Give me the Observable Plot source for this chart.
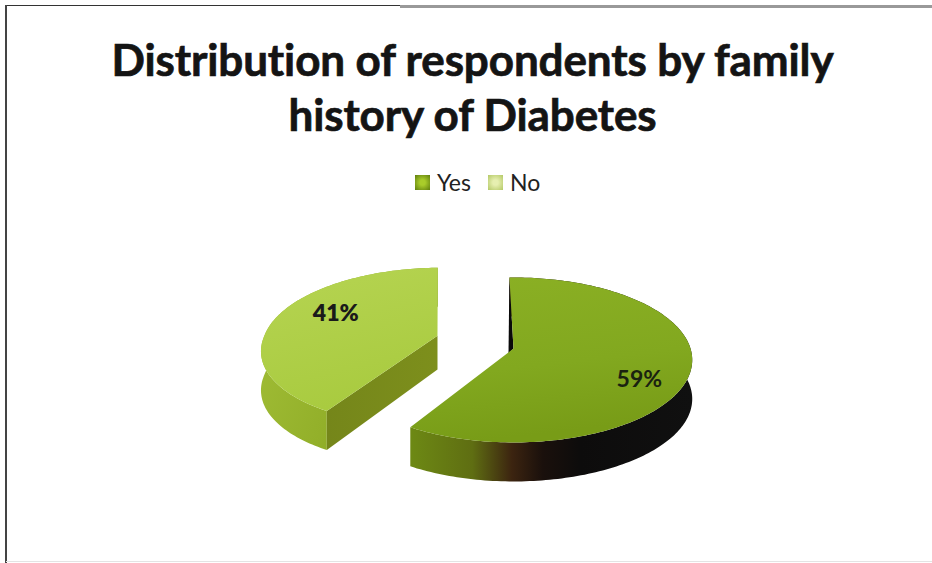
<!DOCTYPE html>
<html>
<head>
<meta charset="utf-8">
<script src="https://cdn.jsdelivr.net/npm/d3@7"></script>
<script src="https://cdn.jsdelivr.net/npm/@observablehq/plot@0.6"></script>
<style>
  html, body { margin: 0; background: #fff; }
  #page { position: relative; width: 932px; height: 563px; overflow: hidden; font-family: Lato, sans-serif; }
  .edge { position: absolute; }
  #title {
    position: absolute; left: 0; top: 32px; width: 945px; text-align: center;
    font-size: 44px; line-height: 55px; font-weight: 700; color: #141414; letter-spacing: -0.12px;
    -webkit-text-stroke: 0.7px #141414;
  }
  #legend { position: absolute; left: 415px; top: 168px; height: 28px; display: flex; align-items: center; font-size: 23px; color: #222; }
  #legend i { display: inline-block; width: 15px; height: 15px; margin-right: 7px; }
  #legend span { margin-right: 17px; display: flex; align-items: center; }
  #chart { position: absolute; left: 0; top: 200px; }
</style>
</head>
<body>
<div id="page">
  <div class="edge" style="left:5px;top:5px;width:395px;height:1px;background:#333"></div>
  <div class="edge" style="left:400px;top:5px;width:532px;height:3px;background:#999"></div>
  <div class="edge" style="left:5px;top:5px;width:1.5px;height:558px;background:#444"></div>
  <div class="edge" style="left:6px;top:561px;width:926px;height:1px;background:#e4e4e4"></div>
  <div id="title">Distribution of respondents by family<br>history of Diabetes</div>
  <div id="legend"></div>
  <div id="chart"></div>
</div>
<script>
// Survey result
const categories = ["Yes", "No"];
const shares = [59, 41];
const swatches = [
  "radial-gradient(circle, #a9cc2a 25%, #5f7d0e 100%)",
  "radial-gradient(circle, #e6efb0 25%, #b3c865 100%)"
];

// Layout of the tilted disc, in pixels of the plot frame
const width = 932, height = 363;
const cx = 513, cy = 148, rx = 177, ry = 80.9;
const perspective = 0.139;      // foreshortening from front to back
const depthYes = 39 / ry, depthNo = 39 / ry;
const explodeNo = [-0.439, -0.16]; // ground-plane shift of the pulled-out slice
const lean = 0.07;              // back half of the pulled-out slice leans left
const turn = -1.5 * Math.PI / 180;

const slices = d3.pie().sort(null).value(d => d)
  .startAngle(turn).endAngle(2 * Math.PI + turn)(shares);

// Ground-plane point to screen units
function project(u, v, drop = 0) {
  const s = 1 / (1 - perspective * v);
  return { x: u * s, y: v * s + drop };
}
function rimPoint(a, [ou, ov], drop = 0) {
  return project(ou + Math.sin(a), ov - Math.cos(a), drop);
}
function arcPoints(a0, a1, origin, drop = 0) {
  const steps = Math.ceil(Math.abs(a1 - a0) / 0.02);
  return d3.range(steps + 1).map(i => rimPoint(a0 + (a1 - a0) * i / steps, origin, drop));
}
const apex = ([ou, ov], drop = 0) => project(ou, ov, drop);

const yes = slices[0], no = slices[1];
const originYes = [0, 0];

const yesSide = [...arcPoints(yes.startAngle, yes.endAngle, originYes),
                 ...arcPoints(yes.endAngle, yes.startAngle, originYes, depthYes)];
const yesTop = [apex(originYes), ...arcPoints(yes.startAngle, yes.endAngle, originYes)];
const yesWall = [rimPoint(yes.startAngle, originYes), apex(originYes),
                 { x: apex(originYes).x - 5 / rx, y: apex(originYes).y + 5 / ry }];

// The pulled-out slice: points behind its apex lean towards the left
const apexNoY = apex(explodeNo).y;
const leaned = p => p.y < apexNoY ? { x: p.x + lean * (p.y - apexNoY) * ry / rx, y: p.y } : p;
const noArc = arcPoints(no.startAngle, no.endAngle, explodeNo).map(leaned);
const noSide = [...noArc, ...noArc.slice().reverse().map(p => ({ x: p.x, y: p.y + depthNo }))];
const noCorner = rimPoint(no.startAngle, explodeNo);
const noCut = [apex(explodeNo), noCorner,
               { x: noCorner.x, y: noCorner.y + depthNo },
               apex(explodeNo, depthNo * 0.86)];
const noTop = [apex(explodeNo), ...noArc];

function labelAnchor(slice, origin) {
  const a = (slice.startAngle + slice.endAngle) / 2;
  return project(origin[0] + 0.7 * Math.sin(a), origin[1] - 0.7 * Math.cos(a));
}
const labelYes = { ...labelAnchor(yes, originYes), text: `${shares[0]}%` };
const labelNo = { ...labelAnchor(no, explodeNo), text: `${shares[1]}%` };

// Gradients that give the solid its shading
function gradients() {
  const defs = d3.create("svg:defs");
  const add = (id, x2, y2, stops) => {
    const g = defs.append("linearGradient").attr("id", id)
      .attr("x1", 0).attr("y1", 0).attr("x2", x2).attr("y2", y2);
    stops.forEach(([o, c]) => g.append("stop").attr("offset", o).attr("stop-color", c));
  };
  add("yesTop", 0.2, 1, [[0, "#8bb024"], [0.6, "#82a81f"], [1, "#789c17"]]);
  add("yesSide", 1, 0, [[0, "#6d8914"], [0.22, "#5f6e12"], [0.36, "#3c2410"], [0.47, "#1a100c"], [0.6, "#0d0c0c"], [1, "#101010"]]);
  add("noTop", 0.3, 1, [[0, "#b6d452"], [1, "#a9cb40"]]);
  add("noSide", 1, 0.4, [[0, "#a3bf38"], [0.6, "#93b02a"], [1, "#7f9a20"]]);
  add("noCut", 1, 0, [[0, "#75861a"], [1, "#7d8f1c"]]);
  return defs.node();
}

const poly = (points, fill) => Plot.line(points, { x: "x", y: "y", fill, stroke: "none", curve: "linear" });

const plot = Plot.plot({
  width, height,
  margin: 0,
  x: { axis: null, domain: [-cx / rx, (width - cx) / rx], range: [0, width] },
  y: { axis: null, domain: [-cy / ry, (height - cy) / ry], range: [0, height] },
  style: { background: "transparent", overflow: "visible" },
  marks: [
    gradients,
    poly(noSide, "url(#noSide)"),
    poly(noCut, "url(#noCut)"),
    poly(noTop, "url(#noTop)"),
    poly(yesSide, "url(#yesSide)"),
    poly(yesWall, "#0a0a0a"),
    poly(yesTop, "url(#yesTop)"),
    Plot.text([labelNo], { x: "x", y: "y", text: "text", dx: 11, dy: -9, fontSize: 23, fontWeight: 800, fill: "#1a1a1a", fontFamily: "Lato" }),
    Plot.text([labelYes], { x: "x", y: "y", text: "text", dx: 3, dy: 16, fontSize: 23, fontWeight: 700, fill: "#1a2210", fontFamily: "Lato" })
  ]
});
document.getElementById("chart").append(plot);

// Legend row
const legend = document.getElementById("legend");
categories.forEach((name, i) => {
  const item = document.createElement("span");
  const mark = document.createElement("i");
  mark.style.background = swatches[i];
  item.append(mark, name);
  legend.append(item);
});
</script>
</body>
</html>
